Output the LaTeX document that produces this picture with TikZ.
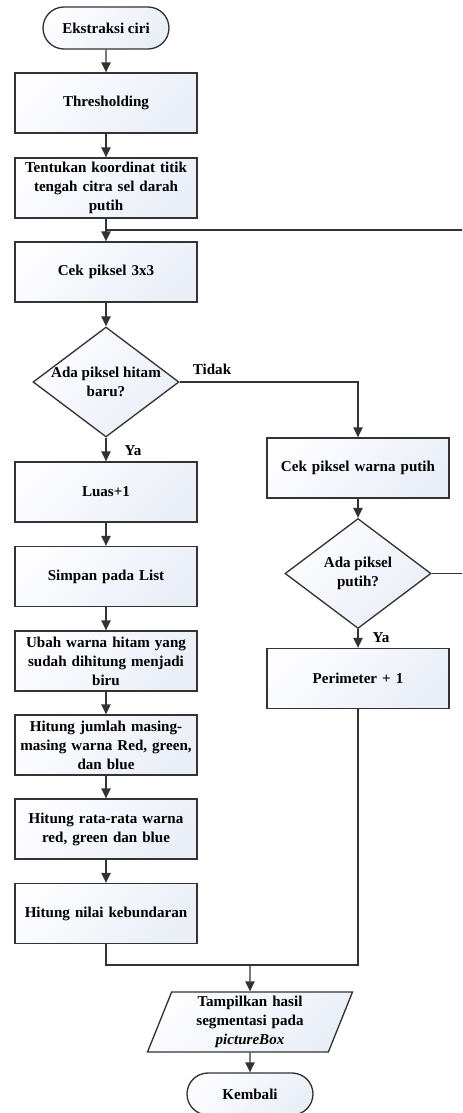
\documentclass[tikz,border=0pt]{standalone}
\usepackage{fontspec}
\setmainfont{Liberation Serif}
\usetikzlibrary{shapes.geometric,shapes.misc,arrows.meta}

\definecolor{isiatas}{RGB}{253,253,255}
\definecolor{isibawah}{RGB}{234,238,247}
\newcommand{\huruf}{\fontsize{11.3}{14.3}\selectfont\bfseries}

\tikzset{
  garis/.style={line width=1pt, draw=black!80},
  panah/.style={garis, -{Triangle[length=7.5pt,width=7pt]}},
  isi/.style={top color=isiatas, bottom color=isibawah, shading angle=45},
  teks/.style={align=center, font=\huruf, inner sep=0pt},
  proses/.style={rectangle, garis, isi, teks, minimum width=136.5pt, minimum height=45pt, text width=134pt},
  terminal/.style={rounded rectangle, garis, isi, teks, minimum width=94.5pt, minimum height=31.5pt},
  keputusan/.style={diamond, garis, isi, inner sep=0pt, minimum width=109.5pt, minimum height=82.5pt},
  data/.style={trapezium, trapezium left angle=65, trapezium right angle=115, trapezium stretches body,
    garis, isi, teks, minimum width=153.75pt, minimum height=45pt, text width=110pt}
}

\begin{document}
\begin{tikzpicture}[x=0.75pt, y=-0.75pt]
  \path[use as bounding box, clip] (0,0) rectangle (462,1113);

  % kolom kiri
  \node[terminal] (Start) at (106,28) {Ekstraksi ciri};
  \node[proses] (Thresh) at (106,103) {Thresholding};
  \node[proses] (Koord) at (106,188) {Tentukan koordinat titik\\tengah citra sel darah\\putih};
  \node[proses] (Cek) at (106,272) {Cek piksel 3x3};
  \node[keputusan, label={[teks, name=HitamTeks]center:Ada piksel hitam\\baru?}] (Hitam) at (106,382) {};
  \node[proses] (Luas) at (106,492) {Luas+1};
  \node[proses] (Simpan) at (106,576.5) {Simpan pada List};
  \node[proses] (Ubah) at (106,661) {Ubah warna hitam yang\\sudah dihitung menjadi\\biru};
  \node[proses] (Jumlah) at (106,745) {Hitung jumlah masing-\\masing warna Red, green,\\dan blue};
  \node[proses] (Rata) at (106,829) {Hitung rata-rata warna\\red, green dan blue};
  \node[proses] (Bulat) at (106,913.5) {Hitung nilai kebundaran};

  % kolom kanan
  \node[proses] (Putih) at (358,468) {Cek piksel warna putih};
  \node[keputusan, label={[teks, name=AdaPutihTeks]center:Ada piksel\\putih?}] (AdaPutih) at (358,573.5) {};
  \node[proses] (Perim) at (358,678.5) {Perimeter + 1};

  % akhir
  \node[data] (Tampil) at (250,1022) {Tampilkan hasil\\segmentasi pada\\\textit{pictureBox}};
  \node[terminal] (Kembali) at (250,1094) {Kembali};

  \node[teks] (Tidak) at (212,369) {Tidak};
  \node[teks] (Ya1) at (133,451) {Ya};
  \node[teks] (Ya2) at (381,638) {Ya};

  \coordinate (Gabung) at (106,230);
  \coordinate (Balik) at (470,230);
  \coordinate (Temu) at (250,965);

  \draw (Start) edge[panah] (Thresh);
  \draw (Thresh) edge[panah] (Koord);
  \draw (Koord) edge[panah] (Cek);
  \draw (Cek) edge[panah] (Hitam);
  \draw (Hitam) edge[panah] (Luas);
  \draw (Luas) edge[panah] (Simpan);
  \draw (Simpan) edge[panah] (Ubah);
  \draw (Ubah) edge[panah] (Jumlah);
  \draw (Jumlah) edge[panah] (Rata);
  \draw (Rata) edge[panah] (Bulat);
  \draw[panah] (Hitam.east) -| (Putih.north);
  \draw (Putih) edge[panah] (AdaPutih);
  \draw (AdaPutih) edge[panah] (Perim);
  \draw[garis] (AdaPutih.east) -| (Balik) -- (Gabung);
  \draw[garis] (Bulat.south) |- (Temu);
  \draw[garis] (Perim.south) |- (Temu);
  \draw (Temu) edge[panah] (Tampil);
  \draw (Tampil) edge[panah] (Kembali);
\end{tikzpicture}
\end{document}
